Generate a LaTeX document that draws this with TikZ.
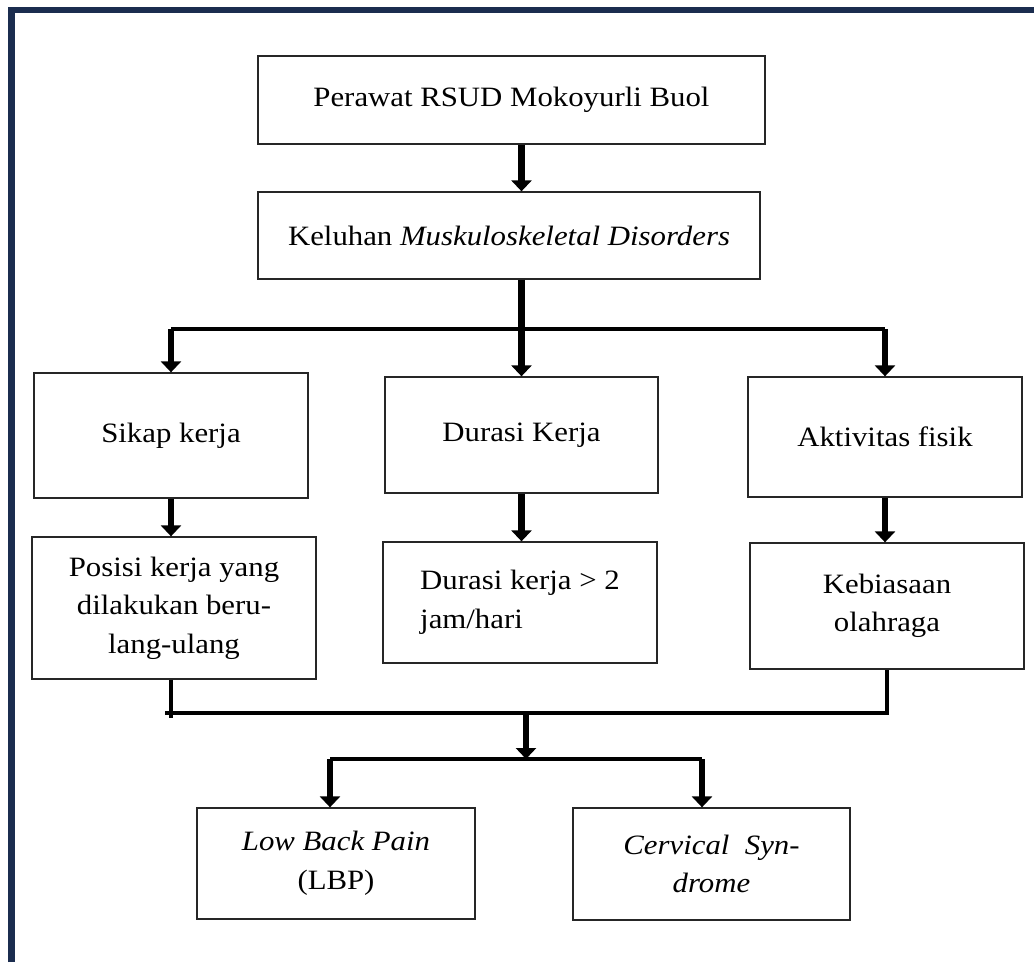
\documentclass[tikz,border=0pt]{standalone}
\usepackage{fontspec}
\setmainfont{Liberation Serif}[FakeStretch=1.1]
\usetikzlibrary{arrows.meta}
\definecolor{framenavy}{HTML}{1B2D4F}

\begin{document}
\begin{tikzpicture}[x=1pt, y=-1pt]
        \tikzstyle{box} = [rectangle, draw=black!85, line width=1.3pt, align=center, inner sep=0pt, font=\fontsize{28}{38.5}\selectfont]
        \tikzstyle{arr} = [-{Triangle[width=20pt,length=11pt]}, line width=6.5pt]
        \tikzstyle{link} = [line width=4pt]

        \useasboundingbox (0,0) rectangle (1034,962);
        % frame on the left and top only
        \draw[framenavy, line width=6.5pt] (11.5,962) -- (11.5,10) -- (1034,10);

        \node[box, minimum width=507, minimum height=88] (perawat) at (511.5,100) {Perawat RSUD Mokoyurli Buol};
        \node[box, minimum width=502, minimum height=87] (keluhan) at (509,235.5) {Keluhan \textit{Muskuloskeletal Disorders}};

        \node[box, minimum width=274, minimum height=125] (sikap) at (171,435.5) {Sikap kerja};
        \node[box, minimum width=273, minimum height=116] (durasi) at (521.5,435) {Durasi Kerja};
        \node[box, minimum width=274, minimum height=120] (aktivitas) at (885,437) {Aktivitas fisik};

        \node[box, minimum width=284, minimum height=142] (posisi) at (174,608) {Posisi kerja yang\\dilakukan beru-\\lang-ulang};
        \node[box, minimum width=274, minimum height=121, align=left] (jam) at (520,602.5) {Durasi kerja > 2\\jam/hari};
        \node[box, minimum width=274, minimum height=126] (kebiasaan) at (887,606) {Kebiasaan\\olahraga};

        \node[box, minimum width=278, minimum height=111] (lbp) at (336,863.5) {\textit{Low Back Pain}\\(LBP)};
        \node[box, minimum width=277, minimum height=112] (cervical) at (711.5,864) {\textit{Cervical\ \ Syn-}\\\textit{drome}};

        \coordinate (split) at (521.5,329);
        \coordinate (mleft) at (165,713);
        \coordinate (mtick) at (171,718);
        \coordinate (merge) at (526,713);
        \coordinate (fork) at (526,759);
        \coordinate (tolbp) at (330,759);
        \coordinate (tocerv) at (702,759);

        \draw[arr] (perawat.south -| split) -- (keluhan.north -| split);
        \draw[line width=6.5pt] (keluhan.south -| split) -- (split);
        \draw[link] (sikap.north |- split) -- (aktivitas.north |- split);
        \draw[arr] (sikap.north |- split) -- (sikap.north);
        \draw[arr] (split) -- (durasi.north);
        \draw[arr] (aktivitas.north |- split) -- (aktivitas.north);

        \draw[arr] (sikap.south) -- (sikap.south |- posisi.north);
        \draw[arr] (durasi.south) -- (durasi.south |- jam.north);
        \draw[arr] (aktivitas.south) -- (aktivitas.south |- kebiasaan.north);

        \draw[link] (posisi.south -| mtick) -- (mtick);
        \draw[link] (mleft) -| (kebiasaan.south);
        \draw[arr] (merge) -- (fork);
        \draw[link] (tolbp) -- (tocerv);
        \draw[arr] (tolbp) -- (tolbp |- lbp.north);
        \draw[arr] (tocerv) -- (tocerv |- cervical.north);
\end{tikzpicture}
\end{document}
